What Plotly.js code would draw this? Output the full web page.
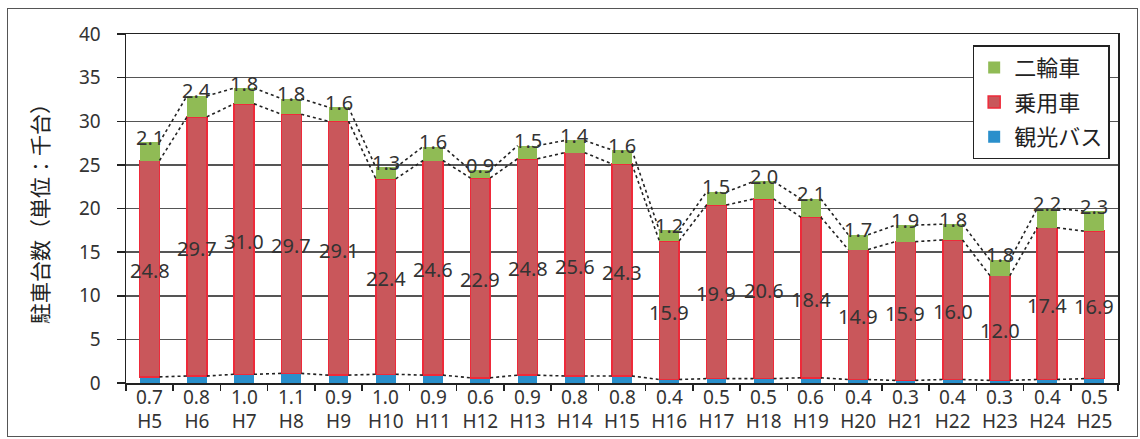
<!DOCTYPE html>
<html>
<head>
<meta charset="utf-8">
<script src="https://cdn.plot.ly/plotly-3.0.1.min.js"></script>
<style>
html,body{margin:0;padding:0;background:#fff;}
#wrap{position:relative;width:1140px;height:439px;}
#chart{width:1140px;height:439px;}
#frame{position:absolute;left:7px;top:8px;width:1129px;height:427px;border:1.5px solid #555;pointer-events:none;}
</style>
</head>
<body>
<div id="wrap"><div id="chart"></div><div id="frame"></div></div>
<script>
// ---- data ----
const years = ["H5","H6","H7","H8","H9","H10","H11","H12","H13","H14","H15","H16","H17","H18","H19","H20","H21","H22","H23","H24","H25"];
const bus   = [0.7,0.8,1.0,1.1,0.9,1.0,0.9,0.6,0.9,0.8,0.8,0.4,0.5,0.5,0.6,0.4,0.3,0.4,0.3,0.4,0.5];
const car   = [24.8,29.7,31.0,29.7,29.1,22.4,24.6,22.9,24.8,25.6,24.3,15.9,19.9,20.6,18.4,14.9,15.9,16.0,12.0,17.4,16.9];
const moto  = [2.1,2.4,1.8,1.8,1.6,1.3,1.6,0.9,1.5,1.4,1.6,1.2,1.5,2.0,2.1,1.7,1.9,1.8,1.8,2.2,2.3];
const seriesNames = ["観光バス","乗用車","二輪車"];

// ---- derived ----
const idx = years.map((_, i) => i);
const busCar = bus.map((b, i) => b + car[i]);
const total = busCar.map((v, i) => v + moto[i]);
const W = 0.42;

function seriesLine(vals) {
  const xs = [], ys = [];
  for (let i = 0; i < vals.length - 1; i++) {
    xs.push(i + W / 2, i + 1 - W / 2, null);
    ys.push(vals[i], vals[i + 1], null);
  }
  return {x: xs, y: ys, type: 'scatter', mode: 'lines', showlegend: false, hoverinfo: 'skip',
          line: {color: '#222', width: 1.6, dash: 'dot'}};
}

const FONT = 'Noto Sans, Noto Sans CJK JP, sans-serif';
const TXT = '#333';

const traces = [
  {type: 'bar', x: idx, y: bus, name: seriesNames[0], width: W, legendgroup: 'g1', legendrank: 3,
   marker: {color: '#2A8FCB', line: {width: 0}}},
  {type: 'bar', x: idx, y: car, name: seriesNames[1], width: W, legendgroup: 'g2', legendrank: 2,
   marker: {color: '#C9575B', line: {color: '#EE2A3A', width: 1.5}}},
  {type: 'bar', x: idx, y: moto, name: seriesNames[2], width: W, legendgroup: 'g3', legendrank: 1,
   marker: {color: '#90BB55', line: {width: 0}}},
  seriesLine(bus), seriesLine(busCar), seriesLine(total)
];

const annotations = [];
idx.forEach(i => {
  annotations.push({x: i, y: total[i], xref: 'x', yref: 'y', text: moto[i].toFixed(1), showarrow: false,
    yanchor: 'middle', yshift: 5, font: {family: FONT, size: 20, color: TXT}});
  annotations.push({x: i, y: bus[i] + car[i] / 2, xref: 'x', yref: 'y', text: car[i].toFixed(1), showarrow: false,
    yanchor: 'middle', yshift: -2, font: {family: FONT, size: 20, color: TXT}});
  annotations.push({x: i, y: 0, xref: 'x', yref: 'paper', text: bus[i].toFixed(1), showarrow: false,
    yanchor: 'middle', yshift: -14, font: {family: FONT, size: 19, color: TXT}});
});

const layout = {
  width: 1140, height: 439,
  margin: {l: 126, r: 22, t: 34, b: 56},
  paper_bgcolor: '#fff', plot_bgcolor: '#fff',
  barmode: 'stack',
  showlegend: true,
  legend: {x: 0.8535, y: 0.968, xanchor: 'left', yanchor: 'top', bgcolor: '#fff',
           bordercolor: '#222', borderwidth: 1.5, traceorder: 'grouped', tracegroupgap: 3,
           font: {family: FONT, size: 22, color: '#222'}},
  xaxis: {range: [-0.5, 20.5], tickvals: idx, ticktext: years, ticks: '', showgrid: false,
          showline: true, linecolor: '#222', linewidth: 1.5, mirror: true, zeroline: false,
          ticklabelstandoff: 21, tickfont: {family: FONT, size: 19, color: TXT},
          minor: {tick0: 0.5, dtick: 1, ticks: 'outside', ticklen: 6, tickwidth: 1.5, tickcolor: '#222', showgrid: false}},
  yaxis: {range: [0, 40], dtick: 5, ticks: 'outside', ticklen: 8, tickwidth: 1.5, tickcolor: '#222',
          showgrid: true, gridcolor: '#555', gridwidth: 1.5, showline: true, linecolor: '#222', linewidth: 1.5,
          mirror: true, zeroline: false, ticklabelstandoff: 12,
          tickfont: {family: FONT, size: 19, color: TXT},
          title: {text: '駐車台数（単位：千台）', standoff: 24, font: {family: 'Noto Sans CJK JP, sans-serif', size: 21, color: '#222'}}},
  annotations: annotations
};

Plotly.newPlot('chart', traces, layout, {displayModeBar: false, staticPlot: true});
</script>
</body>
</html>
